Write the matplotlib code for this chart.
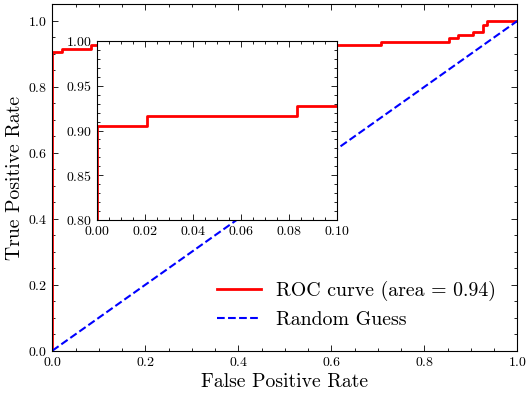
import matplotlib
matplotlib.use("Agg")
import matplotlib.pyplot as plt
from matplotlib.ticker import MultipleLocator

# ROC curve corner points
fpr = [0.0, 0.0, 0.0208, 0.0836, 0.707, 0.853, 0.873, 0.905, 0.926, 0.934, 1.0]
tpr = [0.0, 0.905, 0.916, 0.927, 0.937, 0.947, 0.957, 0.967, 0.989, 1.0, 1.0]
roc_auc = 0.94

guess_x = [0.0, 1.0]
guess_y = [0.0, 1.0]

plt.rcParams["font.family"] = "serif"
plt.rcParams["font.serif"] = ["cmr10"]
plt.rcParams["mathtext.fontset"] = "cm"
plt.rcParams["axes.formatter.use_mathtext"] = True
plt.rcParams["axes.linewidth"] = 0.8


def style_ticks(ax, size):
    ax.tick_params(which="both", direction="in", top=True, right=True,
                   labelsize=size, width=0.6)
    ax.tick_params(which="major", length=4)
    ax.tick_params(which="minor", length=2)


fig = plt.figure(figsize=(5.3, 3.97), dpi=100)
ax = fig.add_axes([0.0987, 0.1166, 0.8773, 0.8721])

ax.plot(fpr, tpr, color="red", lw=2, drawstyle="steps-post",
        label=f"ROC curve (area = {roc_auc:.2f})")
ax.plot(guess_x, guess_y, color="blue", lw=1.5, linestyle="--",
        label="Random Guess")
ax.set_xlim(0, 1)
ax.set_ylim(0, 1.05)
ax.xaxis.set_major_locator(MultipleLocator(0.2))
ax.xaxis.set_minor_locator(MultipleLocator(0.05))
ax.yaxis.set_major_locator(MultipleLocator(0.2))
ax.yaxis.set_minor_locator(MultipleLocator(0.05))
style_ticks(ax, 10)
ax.set_xlabel("False Positive Rate", fontsize=14.2, labelpad=3)
ax.set_ylabel("True Positive Rate", fontsize=14.2, labelpad=3)
ax.legend(loc="lower right", frameon=False, fontsize=14.3,
          handlelength=2.25, handletextpad=0.72, labelspacing=0.5,
          borderaxespad=0.7)

# zoomed inset of the top-left corner
axins = fig.add_axes([0.1836, 0.4458, 0.4517, 0.4509])
axins.plot(fpr, tpr, color="red", lw=2, drawstyle="steps-post")
axins.plot(guess_x, guess_y, color="blue", lw=1.5, linestyle="--")
axins.set_xlim(0, 0.1)
axins.set_ylim(0.8, 1.0)
axins.xaxis.set_major_locator(MultipleLocator(0.02))
axins.xaxis.set_minor_locator(MultipleLocator(0.005))
axins.yaxis.set_major_locator(MultipleLocator(0.05))
axins.yaxis.set_minor_locator(MultipleLocator(0.01))
style_ticks(axins, 10)

fig.savefig("out.png", dpi=100)
